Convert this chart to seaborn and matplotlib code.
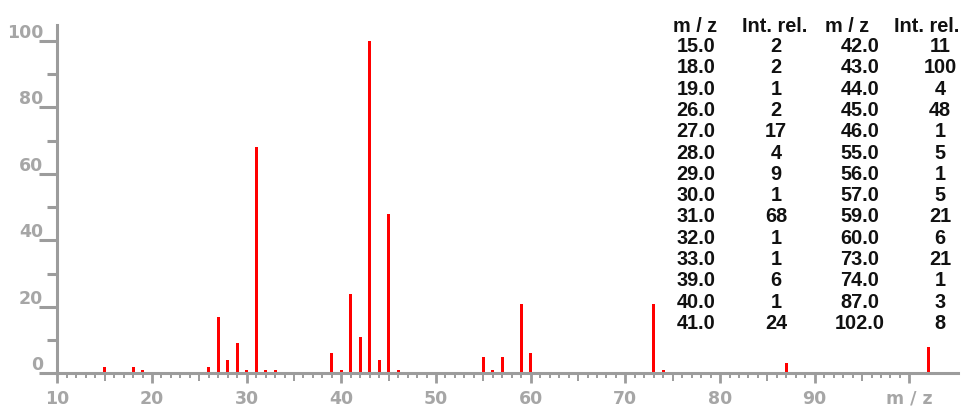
import matplotlib
matplotlib.use("Agg")
import matplotlib.pyplot as plt
import matplotlib.transforms as mtransforms
import seaborn as sns
import pandas as pd

# mass spectrum: m/z and relative intensity
mz = [15.0, 18.0, 19.0, 26.0, 27.0, 28.0, 29.0, 30.0, 31.0, 32.0, 33.0, 39.0, 40.0, 41.0,
      42.0, 43.0, 44.0, 45.0, 46.0, 55.0, 56.0, 57.0, 59.0, 60.0, 73.0, 74.0, 87.0, 102.0]
intensity = [2, 2, 1, 2, 17, 4, 9, 1, 68, 1, 1, 6, 1, 24,
             11, 100, 4, 48, 1, 5, 1, 5, 21, 6, 21, 1, 3, 8]

x_major = [10, 20, 30, 40, 50, 60, 70, 80, 90, 100]
x_labels = ["10", "20", "30", "40", "50", "60", "70", "80", "90", "m / z"]
y_major = [0, 20, 40, 60, 80, 100]
y_minor = [10, 30, 50, 70, 90]

axis_grey = "#9c9c9c"
label_grey = "#a6a6a6"

sns.set_theme(style="white")
plt.rcParams["font.family"] = ["DejaVu Sans"]

df = pd.DataFrame({"mz": mz, "intensity": intensity})

fig = plt.figure(figsize=(9.74, 4.16), dpi=100)
ax = fig.add_axes([57.3 / 974, (416 - 373.3) / 416, (958 - 57.3) / 974, 348.3 / 416])

sns.barplot(data=df, x="mz", y="intensity", native_scale=True, orient="x",
            width=0.32, color="#ff0000", saturation=1, errorbar=None,
            linewidth=0, ax=ax)

ax.set_xlim(10, 105.13)
ax.set_ylim(0, 104.8)
ax.set_xlabel("")
ax.set_ylabel("")

for s in ["top", "right"]:
    ax.spines[s].set_visible(False)
for s in ["left", "bottom"]:
    ax.spines[s].set_color(axis_grey)
    ax.spines[s].set_linewidth(2.2)

# y axis ticks
ax.set_yticks(y_major)
ax.set_yticks(y_minor, minor=True)
ax.tick_params(axis="y", which="major", length=13, width=2.2, color=axis_grey,
               labelcolor=label_grey, labelsize=12.5, pad=0, left=True)
ax.tick_params(axis="y", which="minor", length=7.2, width=2.2, color=axis_grey, left=True)
shift = mtransforms.ScaledTranslation(3.7 / 100, 10 / 100, fig.dpi_scale_trans)
for lab in ax.get_yticklabels():
    lab.set_fontweight("bold")
    lab.set_transform(lab.get_transform() + shift)

# x axis ticks
minor_x = [v for v in range(11, 100) if v % 10 != 0]
ax.set_xticks(x_major)
ax.set_xticklabels(x_labels, fontweight="bold")
ax.set_xticks(minor_x, minor=True)
ax.tick_params(axis="x", which="major", length=7.2, width=2.0, color=axis_grey,
               labelcolor=label_grey, labelsize=12.5, pad=4.5, bottom=True)
ax.tick_params(axis="x", which="minor", length=3.6, width=1.4, color=axis_grey, bottom=True)
for v, t in zip(minor_x, ax.xaxis.get_minor_ticks(len(minor_x))):
    if v % 5 == 0:
        t.tick1line.set_markersize(5.4)

# table of peaks on the right
half = len(mz) // 2
col_x = [696, 776, 860, 940]
head_x = [695, 775, 847, 927]
headers = ["m / z", "Int. rel.", "m / z", "Int. rel."]
tfont = dict(family=["Liberation Sans", "DejaVu Sans"], fontweight="bold",
             fontsize=14.3, color="#111111", ha="center", va="center")
for hx, h in zip(head_x, headers):
    fig.text(hx / 974, 1 - 26 / 416, h, **tfont)
for i in range(half):
    y = 1 - (46.7 + 21.28 * i) / 416
    fig.text(col_x[0] / 974, y, f"{mz[i]:.1f}", **tfont)
    fig.text(col_x[1] / 974, y, f"{intensity[i]}", **tfont)
    fig.text(col_x[2] / 974, y, f"{mz[i + half]:.1f}", **tfont)
    fig.text(col_x[3] / 974, y, f"{intensity[i + half]}", **tfont)

fig.savefig("out.png", dpi=100)
